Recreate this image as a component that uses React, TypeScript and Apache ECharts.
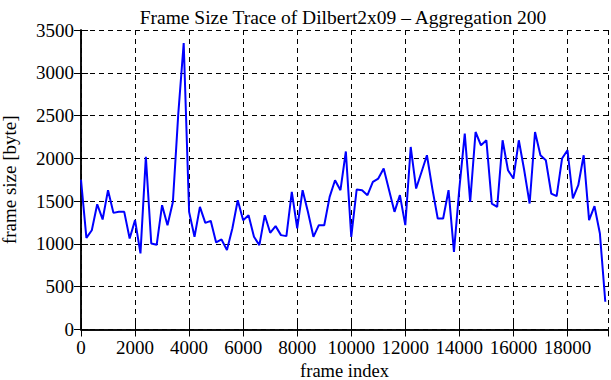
import React, { useEffect, useRef } from "react";
import * as echarts from "echarts";

const titleText = "Frame Size Trace of Dilbert2x09 – Aggregation 200";
const xAxisName = "frame index";
const yAxisName = "frame size [byte]";
const aggregation = 200;
const frameSizes = [
  1750, 1070, 1160, 1464, 1286, 1628, 1363, 1375, 1375, 1064,
  1278, 889, 2017, 1006, 990, 1453, 1219, 1491, 2523, 3347,
  1375, 1083, 1433, 1246, 1270, 1017, 1052, 928, 1181, 1511,
  1278, 1336, 1083, 986, 1336, 1130, 1208, 1103, 1091, 1608,
  1181, 1628, 1370, 1083, 1219, 1219, 1550, 1744, 1628, 2080,
  1083, 1636, 1628, 1570, 1725, 1764, 1881, 1628, 1375, 1570,
  1219, 2133, 1647, 1841, 2036, 1647, 1297, 1297, 1628, 908,
  1650, 2289, 1491, 2308, 2153, 2211, 1472, 1433, 2211, 1861,
  1764, 2211, 1861, 1472, 2308, 2036, 1978, 1589, 1558, 1998,
  2095, 1531, 1686, 2036, 1278, 1441, 1122, 324,
];
const frameIndex = frameSizes.map((_, i) => i * aggregation);
const xMax = 19500;
const xInterval = 2000;
const yMax = 3500;
const yInterval = 500;

const FONT = "'Liberation Serif', serif";

export default function App() {
  const ref = useRef<HTMLDivElement>(null);
  useEffect(() => {
    if (!ref.current) return;
    const chart = echarts.init(ref.current, null, { renderer: "svg" });
    const axisLine = { show: true, lineStyle: { color: "#000", width: 1.5 } };
    const tick = { show: true, inside: true, length: 7, lineStyle: { color: "#000", width: 1 } };
    const split = { show: true, lineStyle: { color: "#000", type: [5, 4], width: 1 } };
    const label = {
      color: "#000",
      fontFamily: FONT,
      fontSize: 19,
      formatter: (v: number) => `{s|${v}}`,
      rich: { s: { fontFamily: FONT, fontSize: 19, color: "#000" } },
    };
    chart.setOption({
      animation: false,
      backgroundColor: "#fff",
      textStyle: { fontFamily: FONT },
      title: {
        text: titleText,
        left: 338,
        top: 2,
        textAlign: "center",
        textStyle: { fontFamily: FONT, fontSize: 19.5, fontWeight: "normal", color: "#000" },
      },
      grid: { left: 81, right: 3, top: 30, bottom: 50.5, containLabel: false, outerBoundsMode: "none" },
      xAxis: [
        {
          type: "value",
          min: 0,
          max: xMax,
          interval: xInterval,
          name: xAxisName,
          nameLocation: "middle",
          nameGap: 29,
          nameTextStyle: { fontFamily: FONT, fontSize: 18.5, color: "#000" },
          axisLine,
          axisTick: tick,
          splitLine: split,
          axisLabel: { ...label, margin: 8, showMaxLabel: false },
        },
        {
          type: "value",
          position: "top",
          min: 0,
          max: xMax,
          interval: xInterval,
          axisLine,
          axisTick: tick,
          splitLine: { show: false },
          axisLabel: { show: false },
        },
      ],
      yAxis: [
        {
          type: "value",
          min: 0,
          max: yMax,
          interval: yInterval,
          name: yAxisName,
          nameLocation: "middle",
          nameGap: 62,
          nameTextStyle: { fontFamily: FONT, fontSize: 19, color: "#000" },
          axisLine,
          axisTick: tick,
          splitLine: split,
          axisLabel: { ...label, margin: 7 },
        },
        {
          type: "value",
          position: "right",
          min: 0,
          max: yMax,
          interval: yInterval,
          axisLine,
          axisTick: tick,
          splitLine: { show: false },
          axisLabel: { show: false },
        },
      ],
      series: [
        {
          type: "line",
          data: frameIndex.map((x, i) => [x, frameSizes[i]]),
          showSymbol: false,
          symbol: "none",
          lineStyle: { color: "#0000ff", width: 2 },
          xAxisIndex: 0,
          yAxisIndex: 0,
        },
      ],
    });
    return () => chart.dispose();
  }, []);
  return <div ref={ref} style={{ width: 611, height: 380, position: "absolute", left: 0, top: 0 }} />;
}
